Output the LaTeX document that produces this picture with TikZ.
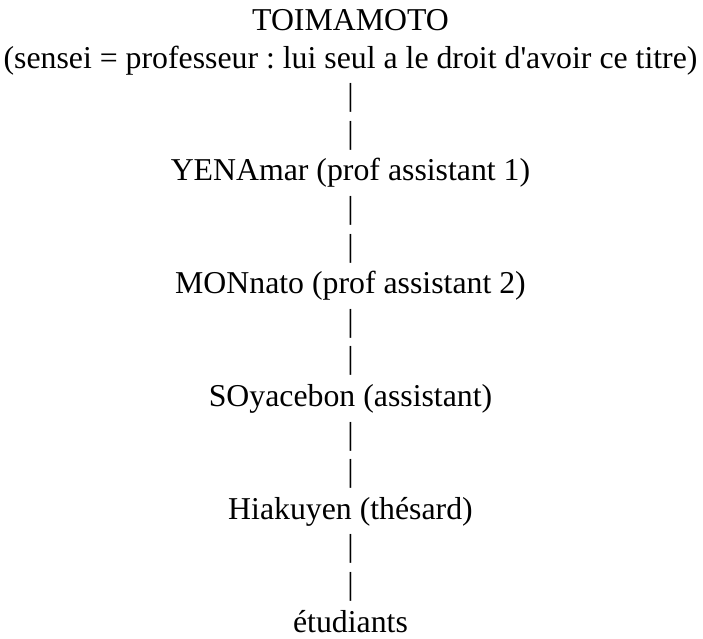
\documentclass[tikz,border=0pt]{standalone}
\usepackage{fontspec}
\setmainfont{Liberation Serif}[Ligatures=TeXOff]
\frenchspacing
\begin{document}
\begin{tikzpicture}[x=1pt,y=1pt,
  txt/.style={inner sep=0pt, anchor=base, font=\fontsize{31.8}{36}\selectfont}]
\useasboundingbox (0,0) rectangle (703,-638);
\def\sp{37.6}
\node[txt] (l0) at (350.5,{-30.5-0*\sp}) {TOIMAMOTO};
\node[txt] (l1) at (350.5,{-30.5-1*\sp}) {(sensei = professeur : lui seul a le droit d'avoir ce titre)};
\node[txt] (b1) at (350.5,{-30.5-2*\sp}) {|};
\node[txt] (b2) at (350.5,{-30.5-3*\sp}) {|};
\node[txt] (l2) at (350.5,{-30.5-4*\sp}) {YENAmar (prof assistant 1)};
\node[txt] (b3) at (350.5,{-30.5-5*\sp}) {|};
\node[txt] (b4) at (350.5,{-30.5-6*\sp}) {|};
\node[txt] (l3) at (350.5,{-30.5-7*\sp}) {MONnato (prof assistant 2)};
\node[txt] (b5) at (350.5,{-30.5-8*\sp}) {|};
\node[txt] (b6) at (350.5,{-30.5-9*\sp}) {|};
\node[txt] (l4) at (350.5,{-30.5-10*\sp}) {SOyacebon (assistant)};
\node[txt] (b7) at (350.5,{-30.5-11*\sp}) {|};
\node[txt] (b8) at (350.5,{-30.5-12*\sp}) {|};
\node[txt] (l5) at (350.5,{-30.5-13*\sp}) {Hiakuyen (thésard)};
\node[txt] (b9) at (350.5,{-30.5-14*\sp}) {|};
\node[txt] (b10) at (350.5,{-30.5-15*\sp}) {|};
\node[txt] (l6) at (350.5,{-30.5-16*\sp}) {étudiants};
\end{tikzpicture}
\end{document}
